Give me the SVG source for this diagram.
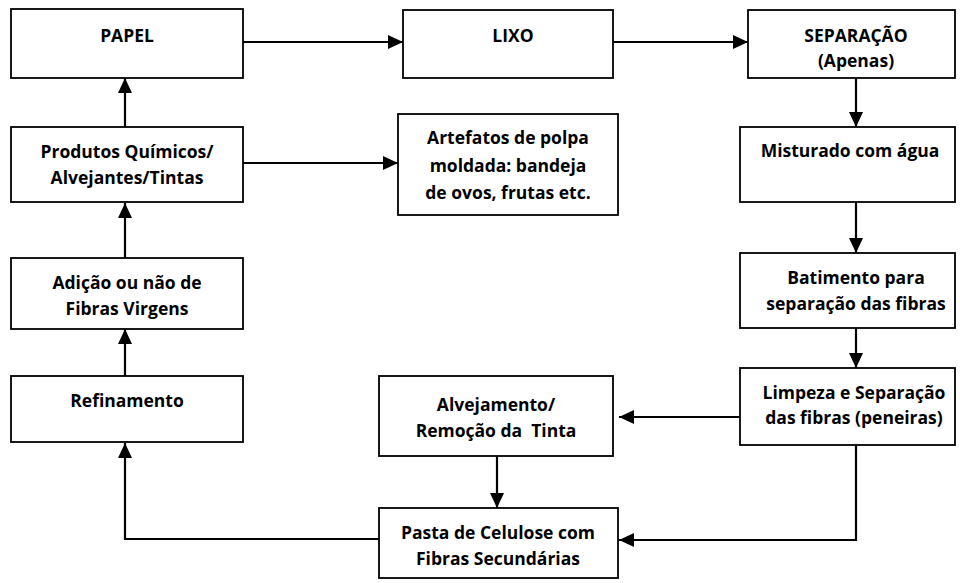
<svg xmlns="http://www.w3.org/2000/svg" width="960" height="583" viewBox="0 0 960 583">
<style>
.box{fill:#fff;stroke:#000;stroke-width:1.8}
.t{font-family:"Open Sans","Liberation Sans",sans-serif;font-weight:bold;font-size:17.5px;text-anchor:middle;fill:#000;white-space:pre}
.c{fill:none;stroke:#000;stroke-width:2.2}
</style>
<defs>
<marker id="ah" markerWidth="15" markerHeight="14" refX="15" refY="7" orient="auto" markerUnits="userSpaceOnUse">
<path d="M0,0 L15,7 L0,14 Z" fill="#000"/>
</marker>
</defs>
<rect width="960" height="583" fill="#fff"/>
<g id="connectors">
<path class="c" d="M243,42 H403" marker-end="url(#ah)"/>
<path class="c" d="M613,42 H748" marker-end="url(#ah)"/>
<path class="c" d="M856,78 V127" marker-end="url(#ah)"/>
<path class="c" d="M856,202 V253" marker-end="url(#ah)"/>
<path class="c" d="M856,328 V368" marker-end="url(#ah)"/>
<path class="c" d="M740,417 H619" marker-end="url(#ah)"/>
<path class="c" d="M497,456 V508" marker-end="url(#ah)"/>
<path class="c" d="M856,445 V540 H619" marker-end="url(#ah)"/>
<path class="c" d="M379,539 H125 V443" marker-end="url(#ah)"/>
<path class="c" d="M125,376 V329" marker-end="url(#ah)"/>
<path class="c" d="M125,258 V203" marker-end="url(#ah)"/>
<path class="c" d="M125,127 V78" marker-end="url(#ah)"/>
<path class="c" d="M243,163 H398" marker-end="url(#ah)"/>
</g>
<g id="papel"><rect class="box" x="11" y="9" width="232" height="69"/><text class="t" x="127" y="42">PAPEL</text></g>
<g id="lixo"><rect class="box" x="403" y="10" width="210" height="68"/><text class="t" x="513" y="42">LIXO</text></g>
<g id="separacao"><rect class="box" x="748" y="10" width="207" height="68"/><text class="t" x="856" y="42">SEPARAÇÃO</text><text class="t" x="856" y="67">(Apenas)</text></g>
<g id="misturado"><rect class="box" x="740" y="127" width="215" height="75"/><text class="t" x="850" y="157">Misturado com água</text></g>
<g id="batimento"><rect class="box" x="740" y="253" width="215" height="75"/><text class="t" x="856" y="284">Batimento para</text><text class="t" x="856" y="310">separação das fibras</text></g>
<g id="limpeza"><rect class="box" x="740" y="368" width="215" height="77"/><text class="t" x="854" y="399">Limpeza e Separação</text><text class="t" x="854" y="424">das fibras (peneiras)</text></g>
<g id="alvejamento"><rect class="box" x="379" y="376" width="234" height="80"/><text class="t" x="496" y="411">Alvejamento/</text><text class="t" x="496" y="437">Remoção da  Tinta</text></g>
<g id="pasta"><rect class="box" x="379" y="508" width="239" height="70"/><text class="t" x="498" y="539">Pasta de Celulose com</text><text class="t" x="498" y="565">Fibras Secundárias</text></g>
<g id="refinamento"><rect class="box" x="11" y="376" width="232" height="66"/><text class="t" x="127" y="407">Refinamento</text></g>
<g id="adicao"><rect class="box" x="11" y="258" width="232" height="71"/><text class="t" x="127" y="289">Adição ou não de</text><text class="t" x="127" y="315">Fibras Virgens</text></g>
<g id="produtos"><rect class="box" x="11" y="127" width="232" height="75"/><text class="t" x="127" y="158">Produtos Químicos/</text><text class="t" x="127" y="184">Alvejantes/Tintas</text></g>
<g id="artefatos"><rect class="box" x="398" y="114" width="220" height="101"/><text class="t" x="508" y="144">Artefatos de polpa</text><text class="t" x="508" y="172">moldada: bandeja</text><text class="t" x="508" y="199">de ovos, frutas etc.</text></g>
</svg>
